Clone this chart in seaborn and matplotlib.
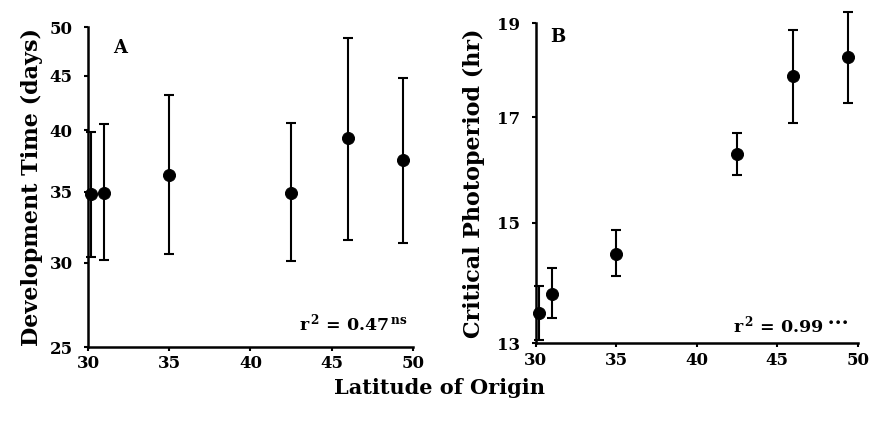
import numpy as np
import pandas as pd
import matplotlib
matplotlib.use("Agg")
import matplotlib.pyplot as plt
import seaborn as sns
from matplotlib.ticker import FixedLocator, FixedFormatter, NullLocator

sns.set_theme(style="ticks")
plt.rcParams['font.family'] = ['DejaVu Serif', 'DejaVu Sans']
plt.rcParams['font.weight'] = 'bold'
plt.rcParams['mathtext.fontset'] = 'dejavuserif'
for k in ['text.color', 'axes.labelcolor', 'xtick.color', 'ytick.color', 'axes.edgecolor']:
    plt.rcParams[k] = 'black'

# ---- data ----
latitude = [30.2, 31.0, 35.0, 42.5, 46.0, 49.4]

dev_time = [34.8, 34.9, 36.3, 34.9, 39.3, 37.5]
dev_low = [30.4, 30.2, 30.6, 30.1, 31.5, 31.3]
dev_high = [39.8, 40.5, 43.2, 40.6, 48.8, 44.8]

photo = [13.47, 13.79, 14.46, 16.27, 17.85, 18.26]
photo_low = [13.05, 13.39, 14.08, 15.88, 16.88, 17.28]
photo_high = [13.91, 14.22, 14.87, 16.69, 18.86, 19.26]

x_ticks = [30, 35, 40, 45, 50]
a_ticks = [25, 30, 35, 40, 45, 50]
b_ticks = [13, 15, 17, 19]

df = pd.DataFrame({"lat": latitude, "dev": dev_time, "dlo": dev_low, "dhi": dev_high,
                   "ph": photo, "plo": photo_low, "phi": photo_high})

fig = plt.figure(figsize=(8.71, 4.22), dpi=100)
axA = fig.add_axes([0.101, 0.1777, 0.373, 0.758])
axB = fig.add_axes([0.615, 0.1865, 0.370, 0.758])

def style(ax, yticks, ylim, ylabel, lpad):
    ax.set_yscale('log')
    ax.set_ylim(*ylim)
    ax.set_xlim(30, 50)
    ax.yaxis.set_major_locator(FixedLocator(yticks))
    ax.yaxis.set_major_formatter(FixedFormatter([str(t) for t in yticks]))
    ax.yaxis.set_minor_locator(NullLocator())
    ax.set_xticks(x_ticks)
    ax.set_xticklabels([str(t) for t in x_ticks])
    for s in ['top', 'right']:
        ax.spines[s].set_visible(False)
    for s in ['left', 'bottom']:
        ax.spines[s].set_linewidth(1.8)
        ax.spines[s].set_color('black')
    ax.tick_params(axis='y', direction='out', length=3, width=1.5, colors='black',
                   labelsize=12, pad=8)
    ax.tick_params(axis='x', direction='out', length=3, width=1.5, colors='black',
                   labelsize=12, pad=3)
    for lab in ax.get_xticklabels() + ax.get_yticklabels():
        lab.set_fontweight('bold')
    ax.set_ylabel(ylabel, fontsize=16, fontweight='bold', labelpad=lpad)
    ax.set_xlabel('')

# Panel A
axA.errorbar(df["lat"], df["dev"],
             yerr=[df["dev"] - df["dlo"], df["dhi"] - df["dev"]],
             fmt='none', ecolor='black', elinewidth=1.5, capsize=3.5, capthick=1.5,
             clip_on=False)
sns.scatterplot(data=df, x="lat", y="dev", ax=axA, color='black', s=75,
                edgecolor='black', zorder=3, legend=False, clip_on=False)
style(axA, a_ticks, (25, 50), 'Development Time (days)', 5)
axA.text(0.098, 0.934, 'A', transform=axA.transAxes, fontsize=13, fontweight='bold',
         ha='center', va='center')
axA.text(0.985, 0.075, r'r$^{\,\mathbf{2}}$ = 0.47$^{\,\mathbf{ns}}$', transform=axA.transAxes,
         fontsize=12.5, fontweight='bold', ha='right', va='center')

# Panel B
eb = axB.errorbar(df["lat"], df["ph"],
                  yerr=[df["ph"] - df["plo"], df["phi"] - df["ph"]],
                  fmt='none', ecolor='black', elinewidth=1.5, capsize=3.5, capthick=1.5)
for art in eb.lines[1] + eb.lines[2]:
    art.set_clip_on(False)
sns.scatterplot(data=df, x="lat", y="ph", ax=axB, color='black', s=75,
                edgecolor='black', zorder=3, legend=False, clip_on=False)
style(axB, b_ticks, (13, 19), 'Critical Photoperiod (hr)', 9)
axB.text(0.069, 0.957, 'B', transform=axB.transAxes, fontsize=13, fontweight='bold',
         ha='center', va='center')
axB.text(0.97, 0.057, r'r$^{\,\mathbf{2}}$ = 0.99$^{\,\bullet\!\!\bullet\!\!\bullet}$', transform=axB.transAxes,
         fontsize=12.5, fontweight='bold', ha='right', va='center')

fig.text(0.505, 0.08, 'Latitude of Origin', ha='center', va='center',
         fontsize=15, fontweight='bold')

fig.savefig('out.png', dpi=100, facecolor='white')
